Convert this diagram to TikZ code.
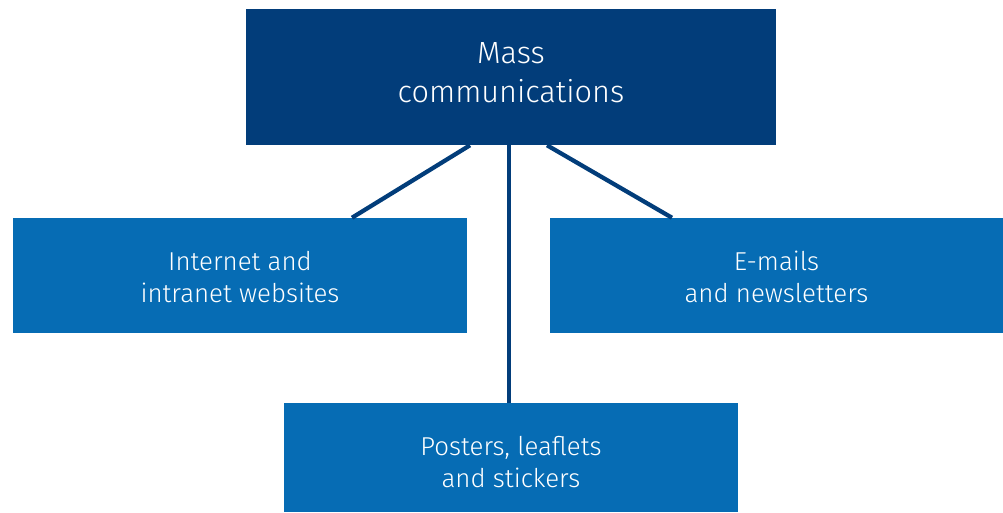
\documentclass[tikz,border=0pt]{standalone}
\usepackage{fontspec}
\setmainfont{Fira Sans}[UprightFont=* Light]
\usetikzlibrary{calc}
\definecolor{navy}{HTML}{023D7A}
\definecolor{midblue}{HTML}{066CB4}
\begin{document}
\begin{tikzpicture}[x=0.75pt,y=-0.75pt,
  box/.style={rectangle,fill=midblue,inner sep=0pt},
  headbox/.style={box,fill=navy},
  boxtext/.style={text=white,align=center,inner sep=0pt,font=\fontsize{19.4}{24}\selectfont},
  headtext/.style={boxtext,font=\fontsize{23}{29}\selectfont},
  link/.style={draw=navy,line width=3.2pt}]
\useasboundingbox (0,0) rectangle (1003,513);
% boxes
\node[headbox,minimum width=397.5pt,minimum height=102pt] (top) at (511,77) {};
\node[box,minimum width=340.5pt,minimum height=86.25pt] (left) at (240,275.5) {};
\node[box,minimum width=339.75pt,minimum height=86.25pt] (right) at (776.5,275.5) {};
\node[box,minimum width=340.5pt,minimum height=81.75pt] (bottom) at (511,457.5) {};
% labels
\node[headtext] (toplabel) at ([yshift=3pt]top.center) {Mass\\communications};
\node[boxtext] (leftlabel) at ([yshift=-1pt]left.center) {Internet and\\intranet websites};
\node[boxtext] (rightlabel) at ([yshift=-1pt]right.center) {E-mails\\and newsletters};
\node[boxtext] (bottomlabel) at ([yshift=-3.75pt]bottom.center) {Posters, leaflets\\and stickers};
% connectors
\draw[link] ([xshift=-30.75pt]top.south) -- ([xshift=84pt]left.north);
\draw[link] ([xshift=27pt]top.south) -- ([xshift=-78.4pt]right.north);
\draw[link] ([xshift=-1.5pt]top.south) -- ([xshift=-1.5pt]bottom.north);
\end{tikzpicture}
\end{document}
